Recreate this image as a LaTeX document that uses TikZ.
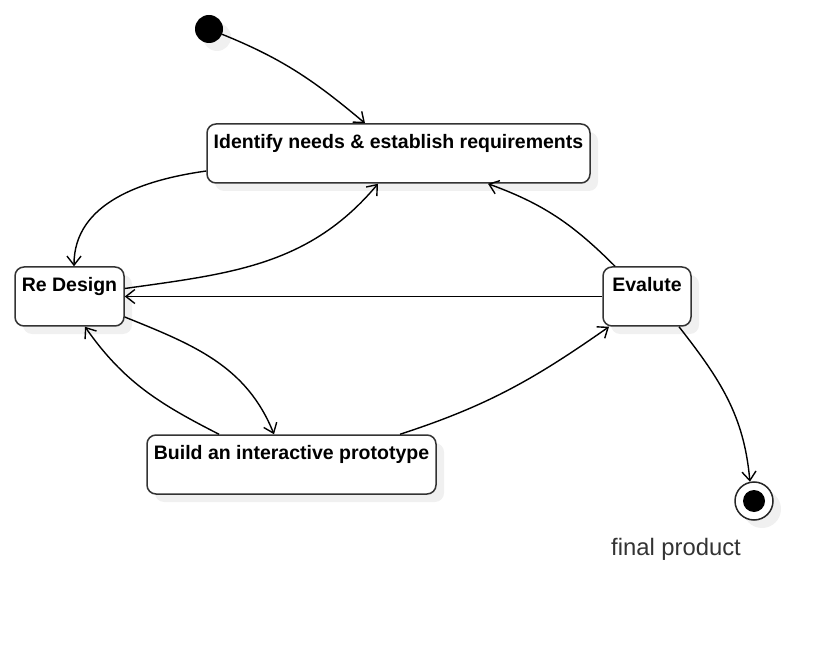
\documentclass[tikz,border=0pt]{standalone}
\usepackage{fontspec}
\setmainfont{Liberation Sans}
\usetikzlibrary{arrows.meta,shadows}

\begin{document}
\begin{tikzpicture}[x=1pt,y=1pt]
	\tikzset{
		ombra/.style={drop shadow={opacity=1,fill=black!6,shadow xshift=8pt,shadow yshift=-8pt}},
		statebox/.style={draw=black!80,line width=1.5pt,rounded corners=9pt,fill=white,ombra,
			font=\fontsize{19.5}{22}\selectfont\bfseries,inner xsep=0pt,inner ysep=8pt,
			text height=16.5pt,text depth=26.5pt,minimum height=59pt},
		flow/.style={line width=1.4pt,-{Straight Barb[length=9pt,width=14pt]}}}
	\useasboundingbox (0,0) rectangle (832,646);
	\node[circle,fill=black,minimum size=28pt,inner sep=0pt,ombra] (inizio) at (209,617) {};
	\node[statebox,minimum width=383pt] (needs) at (398.5,492.5) {Identify needs \& establish requirements};
	\node[statebox,minimum width=109pt] (redesign) at (69.5,349.5) {Re Design};
	\node[statebox,minimum width=88pt] (evalute) at (647,349.5) {Evalute};
	\node[statebox,minimum width=289pt] (build) at (291.5,181.5) {Build an interactive prototype};
	\node[circle,draw=black!85,line width=1.5pt,fill=white,minimum size=38pt,inner sep=0pt,ombra] (fine) at (754,145) {};
	\fill (fine) circle (11pt);
	\node[font=\fontsize{23.8}{27}\selectfont,text=black!80] (prodotto) at (676,97) {final product};
	\draw[flow] (inizio) to[out=-22,in=140] ([xshift=-33.5pt]needs.north);
	\draw[flow] ([yshift=-17.5pt]needs.west) to[out=188,in=90] ([xshift=4.5pt]redesign.north);
	\draw[flow] ([yshift=8pt]redesign.east) to[out=8,in=-130] ([xshift=-20.5pt]needs.south);
	\draw[flow] ([xshift=-32pt]evalute.north) to[out=135,in=-20] ([xshift=89.5pt]needs.south);
	\draw[flow] (evalute) -- (redesign);
	\draw[flow] ([yshift=-20.5pt]redesign.east) to[out=-22,in=112] ([xshift=-17.5pt]build.north);
	\draw[flow] ([xshift=-72.5pt]build.north) to[out=153,in=-55] ([xshift=15.5pt]redesign.south);
	\draw[flow] ([xshift=108.5pt]build.north) to[out=18,in=-145] ([xshift=-38pt]evalute.south);
	\draw[flow] ([xshift=32pt]evalute.south) to[out=-52,in=95] (fine.102);
\end{tikzpicture}
\end{document}
